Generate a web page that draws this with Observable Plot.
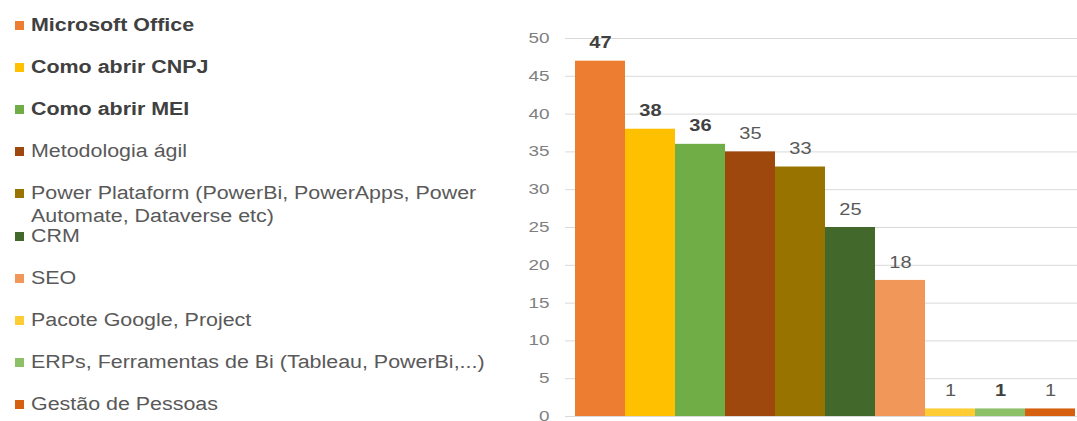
<!DOCTYPE html>
<html><head><meta charset="utf-8">
<script src="https://cdn.jsdelivr.net/npm/d3@7"></script>
<script src="https://cdn.jsdelivr.net/npm/@observablehq/plot@0.6"></script>
<style>
html,body{margin:0;background:#fff;overflow:hidden}
#wrap{position:relative;width:1077px;height:421px;font-family:"Liberation Sans",Arial,sans-serif}
#chart{position:absolute;left:0;top:0}
#legend{position:absolute;left:0;top:0;z-index:2}
.item{position:absolute;left:15px;display:flex;align-items:flex-start;white-space:pre;line-height:23px;font-size:18px;color:#595959}
.item.b{font-weight:bold;color:#404040}
.item .tx{transform:scaleX(1.19);transform-origin:0 0}
.sw{width:9px;height:9px;margin-top:7px;margin-right:7px;flex:none}
</style></head><body>
<div id="wrap"><div id="chart"></div><div id="legend"></div></div>
<script>
const categories = [
  "Microsoft Office",
  "Como abrir CNPJ",
  "Como abrir MEI",
  "Metodologia ágil",
  "Power Plataform (PowerBi, PowerApps, Power Automate, Dataverse etc)",
  "CRM",
  "SEO",
  "Pacote Google, Project",
  "ERPs, Ferramentas de Bi (Tableau, PowerBi,...)",
  "Gestão de Pessoas"
];
const values = [47, 38, 36, 35, 33, 25, 18, 1, 1, 1];
const colors = ["#ED7D31", "#FFC000", "#70AD47", "#9E480E", "#997300", "#43682B", "#F1975A", "#FFCD33", "#8CC168", "#D6600F"];
const boldLegend = [true, true, true, false, false, false, false, false, false, false];
const boldValue = [true, true, true, false, false, false, false, false, true, false];
const yTicks = [0, 5, 10, 15, 20, 25, 30, 35, 40, 45, 50];

const data = categories.map((c, i) => ({category: c, value: values[i], bold: boldValue[i]}));

const chart = Plot.plot({
  width: 1077,
  height: 421,
  marginLeft: 565,
  marginRight: 0,
  marginTop: 38,
  marginBottom: 5,
  style: {fontFamily: "Liberation Sans, Arial, sans-serif", background: "transparent", overflow: "visible"},
  x: {domain: categories, padding: 0, insetLeft: 8, axis: null},
  y: {domain: [0, 50]},
  color: {domain: categories, range: colors},
  marks: [
    Plot.ruleY(yTicks, {stroke: "#d9d9d9", strokeWidth: 1}),
    Plot.axisY({ticks: yTicks, tickSize: 0, tickPadding: 16, fontSize: 14, fill: "#7f7f7f", label: null}),
    Plot.barY(data, {x: "category", y: "value", fill: "category"}),
    Plot.text(data.filter(d => d.bold), {x: "category", y: "value", text: d => String(d.value), dy: -18, lineAnchor: "middle", fontSize: 16, fontWeight: "bold", fill: "#404040"}),
    Plot.text(data.filter(d => !d.bold), {x: "category", y: "value", text: d => String(d.value), dy: -18, lineAnchor: "middle", fontSize: 16, fill: "#595959"})
  ]
});

function stretch(sel, s) {
  d3.select(chart).selectAll(sel).each(function() {
    const t = this.getAttribute("transform") || "";
    const xa = this.getAttribute("x");
    let x = 0;
    if (xa != null && !isNaN(+xa)) { x = +xa; this.removeAttribute("x"); }
    this.setAttribute("transform", `${t} translate(${x},0) scale(${s},1)`);
  });
}
stretch("g[aria-label='text'] text", 1.25);
stretch("g[aria-label='y-axis tick label'] text", 1.35);
document.getElementById("chart").appendChild(chart);

const legend = document.getElementById("legend");
categories.forEach((c, i) => {
  const item = document.createElement("div");
  item.className = "item" + (boldLegend[i] ? " b" : "");
  item.style.top = (25 + 42.2 * i - 11.5) + "px";
  const sw = document.createElement("div");
  sw.className = "sw";
  sw.style.background = colors[i];
  const tx = document.createElement("div");
  tx.className = "tx";
  tx.textContent = c.replace("Power Automate", "Power\nAutomate");
  item.appendChild(sw);
  item.appendChild(tx);
  legend.appendChild(item);
});
</script>
</body></html>
